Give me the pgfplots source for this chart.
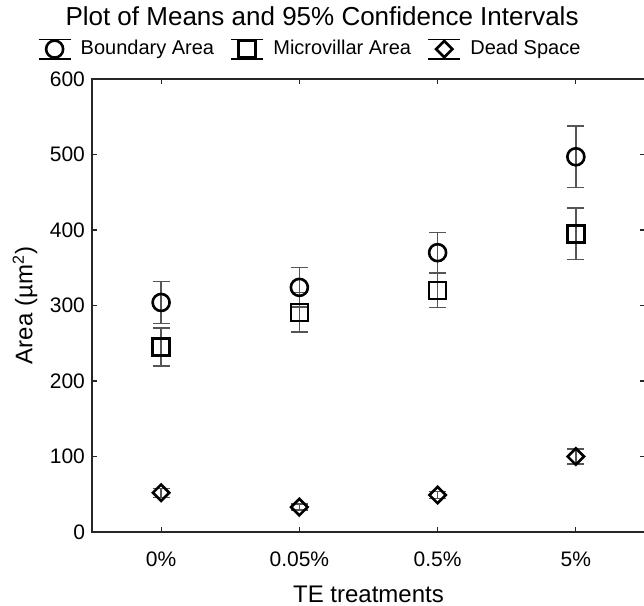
\documentclass[border=0pt]{standalone}
\usepackage{fontspec}
\setmainfont{Liberation Sans}
\usepackage{pgfplots}
\usepackage{pgfplotstable}
\pgfplotsset{compat=1.18}

% means and half-widths of the 95% intervals
\pgfplotstableread{
x y e
0 304 28
1 324 26
2 370 26.5
3 497 41
}\boundary
\pgfplotstableread{
x y e
0 245 25
1 291 26
2 320 23
3 395 34
}\micro
\pgfplotstableread{
x y e
0 52 6
1 33 4
2 49 5
3 100 10
}\dead

\definecolor{ebar}{RGB}{85,85,85}

\pgfplotsset{
  % error bars only, drawn first so the marks sit on top
  cibar/.style={
    draw=none, mark=none, forget plot,
    error bars/y dir=both, error bars/y explicit,
    error bars/error mark=-,
    error bars/error bar style={draw=ebar, line width=0.7pt},
    error bars/error mark options={rotate=90, mark size=4.25pt, draw=ebar, line width=0.7pt},
  },
  cimark/.style={
    only marks,
    mark options={draw=black, fill=white, line width=1.3pt, solid},
    legend image code/.code={
      \draw[black, line width=0.6pt] (0pt,4.8pt) -- (16pt,4.8pt);
      \draw[black, line width=1.1pt] (0pt,-4.8pt) -- (16pt,-4.8pt);
      \draw[mark repeat=2, mark phase=2, ##1] plot coordinates {(0pt,0pt) (8pt,0pt) (16pt,0pt)};
    },
  },
}

\begin{document}
\begin{tikzpicture}
\begin{axis}[
  scale only axis,
  width=276.5pt, height=226.5pt,
  xmin=-0.5, xmax=3.5, ymin=0, ymax=600,
  xtick={0,1,2,3},
  xticklabels={0\%,0.05\%,0.5\%,5\%},
  ytick={0,100,200,300,400,500,600},
  tick pos=both, tick align=inside,
  major tick length=2.5pt,
  tick style={black!85, line width=0.6pt},
  axis line style={black!85, line width=0.7pt},
  /pgf/number format/assume math mode=true,
  tick label style={font=\fontsize{10.5}{12}\selectfont},
  xticklabel style={anchor=base, yshift=-17.25pt},
  label style={font=\fontsize{12}{14}\selectfont},
  xlabel={TE treatments},
  ylabel={Area (µm\textsuperscript{2})},
  xlabel style={at={(axis description cs:0.5,0)}, anchor=base, yshift=-35pt},
  ylabel style={at={(axis description cs:-0.1076,0.5)}, anchor=base},
  title={Plot of Means and 95\% Confidence Intervals},
  title style={at={(axis description cs:0.416,1.119)}, anchor=base, yshift=-6pt,
    font=\fontsize{13}{15}\selectfont},
  legend columns=3,
  legend style={at={(axis description cs:0.396,1.066)}, anchor=center,
    draw=none, fill=none, font=\fontsize{10}{12}\selectfont,
    /tikz/every odd column/.append style={column sep=2.5pt},
    /tikz/every even column/.append style={column sep=6pt}},
]
\addplot[cibar] table[x=x, y=y, y error=e] {\boundary};
\addplot[cibar] table[x=x, y=y, y error=e] {\micro};
\addplot[cibar] table[x=x, y=y, y error=e] {\dead};
\addplot[cimark, mark=o, mark size=4.25pt] table[x=x, y=y] {\boundary};
\addplot[cimark, mark=square, mark size=4.25pt] table[x=x, y=y] {\micro};
\addplot[cimark, mark=square, mark size=2.9pt, /tikz/every mark/.append style={rotate=45}] table[x=x, y=y] {\dead};
\legend{Boundary Area, Microvillar Area, Dead Space}
\end{axis}
\pgfresetboundingbox
\useasboundingbox (-46pt,-37pt) rectangle (276pt,266pt);
\end{tikzpicture}
\end{document}
